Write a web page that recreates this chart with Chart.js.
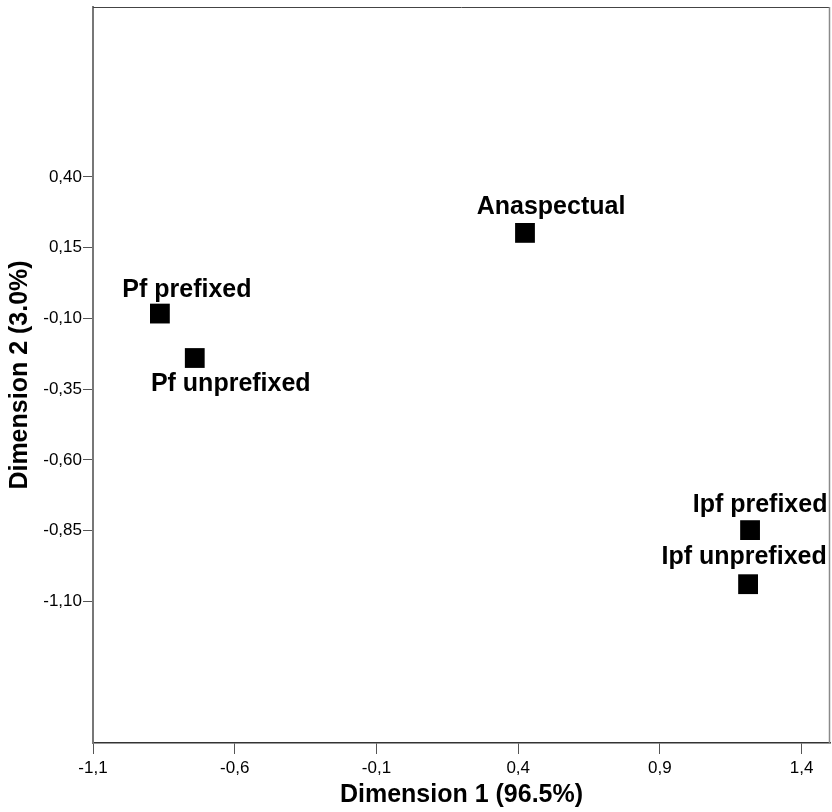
<!DOCTYPE html>
<html>
<head>
<meta charset="utf-8">
<script src="https://cdn.jsdelivr.net/npm/chart.js@4.4.1/dist/chart.umd.min.js"></script>
<style>
  html, body { margin: 0; padding: 0; background: #fff; }
  #wrap { width: 832px; height: 812px; }
</style>
</head>
<body>
<div id="wrap"><canvas id="myChart" width="832" height="812"></canvas></div>
<script>
// ----- data -----
const categories = ['Anaspectual', 'Pf prefixed', 'Pf unprefixed', 'Ipf prefixed', 'Ipf unprefixed'];
const dim1 = [0.424, -0.864, -0.741, 1.218, 1.211];
const dim2 = [0.202, -0.083, -0.240, -0.848, -1.039];
const xTicks = [-1.1, -0.6, -0.1, 0.4, 0.9, 1.4];
const yTicks = [0.40, 0.15, -0.10, -0.35, -0.60, -0.85, -1.10];

const FONT = '"Liberation Sans", Arial, sans-serif';

// where each label sits relative to its point (dx, dy of baseline centre)
const labelShift = [[26, -19], [27, -17], [36, 33], [10, -18], [-4, -20]];

const labelsPlugin = {
    id: 'pointLabels',
    afterDatasetsDraw(chart) {
        const ctx = chart.ctx;
        const meta = chart.getDatasetMeta(0);
        ctx.save();
        ctx.font = 'bold 25px ' + FONT;
        ctx.fillStyle = '#000';
        ctx.textAlign = 'center';
        ctx.textBaseline = 'alphabetic';
        meta.data.forEach((pt, i) => {
            ctx.fillText(categories[i], pt.x + labelShift[i][0], pt.y + labelShift[i][1]);
        });
        ctx.restore();
    }
};

const framePlugin = {
    id: 'frame',
    beforeDatasetsDraw(chart) {
        const {ctx, chartArea: a} = chart;
        ctx.save();
        ctx.strokeStyle = '#444';
        ctx.lineWidth = 1;
        ctx.beginPath();
        ctx.moveTo(a.left, a.top + 0.5);
        ctx.lineTo(a.right, a.top + 0.5);
        ctx.stroke();
        ctx.strokeStyle = '#8a8a8a';
        ctx.lineWidth = 1.5;
        ctx.beginPath();
        ctx.moveTo(a.right - 0.5, a.top);
        ctx.lineTo(a.right - 0.5, a.bottom);
        ctx.stroke();
        ctx.restore();
    }
};

const ctx = document.getElementById('myChart').getContext('2d');
const data = {
    datasets: [{
        label: 'Categories',
        data: dim1.map((x, i) => ({x: x, y: dim2[i]})),
        pointStyle: 'rect',
        pointRadius: 14,
        pointHoverRadius: 14,
        backgroundColor: '#000',
        borderWidth: 0,
    }]
};

const config = {
    type: 'scatter',
    data: data,
    options: {
        responsive: false,
        animation: false,
        layout: { autoPadding: false, padding: { left: 0, right: 2, top: 7, bottom: 0 } },
        plugins: {
            legend: { display: false },
            tooltip: { enabled: false },
        },
        scales: {
            x: {
                type: 'linear',
                min: -1.1,
                max: 1.5,
                afterBuildTicks: s => { s.ticks = xTicks.map(v => ({value: v})); },
                afterFit: s => { s.height = 69; s.paddingLeft = 0; s.paddingRight = 0; },
                ticks: {
                    color: '#000',
                    font: { family: FONT, size: 17 },
                    padding: 4,
                    maxRotation: 0,
                    callback: v => v.toFixed(1).replace('.', ','),
                },
                grid: { drawOnChartArea: false, drawTicks: true, tickLength: 11, tickColor: '#555' },
                border: { color: '#333', width: 1.5 },
                title: {
                    display: true,
                    text: 'Dimension 1 (96.5%)',
                    color: '#000',
                    font: { family: FONT, size: 25, weight: 'bold', lineHeight: 1.2 },
                    padding: { top: 0, bottom: 2 },
                },
            },
            y: {
                type: 'linear',
                min: -1.6,
                max: 1.0,
                afterBuildTicks: s => { s.ticks = yTicks.map(v => ({value: v})); },
                afterFit: s => { s.width = 93; s.paddingTop = 0; s.paddingBottom = 0; },
                ticks: {
                    color: '#000',
                    font: { family: FONT, size: 17 },
                    padding: 1,
                    callback: v => v.toFixed(2).replace('.', ','),
                },
                grid: { drawOnChartArea: false, drawTicks: true, tickLength: 10, tickColor: '#555' },
                border: { color: '#777', width: 2 },
                title: {
                    display: true,
                    text: 'Dimension 2 (3.0%)',
                    color: '#000',
                    font: { family: FONT, size: 25, weight: 'bold', lineHeight: 1.2 },
                    padding: { top: 5, bottom: 0 },
                },
            },
        },
    },
    plugins: [framePlugin, labelsPlugin],
};

const sensorsChart = new Chart(ctx, config);
</script>
</body>
</html>
